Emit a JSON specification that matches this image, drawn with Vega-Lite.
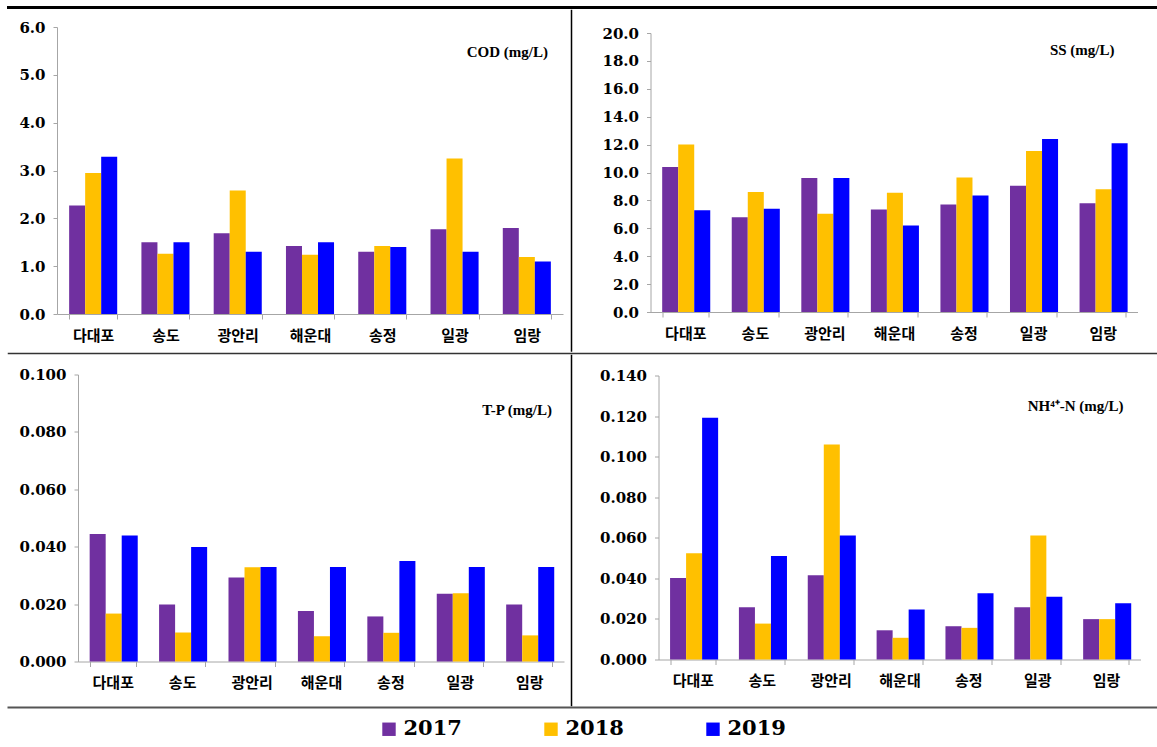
{
  "$schema": "https://vega.github.io/schema/vega-lite/v6.json",
  "padding": {"left": 6.5, "top": 5.5, "right": 0, "bottom": 0},
  "background": "white",
  "data": {"values": [
    {"param":"COD","site":"다대포","year":"2017","value":2.27},{"param":"COD","site":"다대포","year":"2018","value":2.95},{"param":"COD","site":"다대포","year":"2019","value":3.29},
    {"param":"COD","site":"송도","year":"2017","value":1.50},{"param":"COD","site":"송도","year":"2018","value":1.26},{"param":"COD","site":"송도","year":"2019","value":1.50},
    {"param":"COD","site":"광안리","year":"2017","value":1.69},{"param":"COD","site":"광안리","year":"2018","value":2.58},{"param":"COD","site":"광안리","year":"2019","value":1.30},
    {"param":"COD","site":"해운대","year":"2017","value":1.42},{"param":"COD","site":"해운대","year":"2018","value":1.24},{"param":"COD","site":"해운대","year":"2019","value":1.50},
    {"param":"COD","site":"송정","year":"2017","value":1.30},{"param":"COD","site":"송정","year":"2018","value":1.42},{"param":"COD","site":"송정","year":"2019","value":1.40},
    {"param":"COD","site":"일광","year":"2017","value":1.77},{"param":"COD","site":"일광","year":"2018","value":3.25},{"param":"COD","site":"일광","year":"2019","value":1.30},
    {"param":"COD","site":"임랑","year":"2017","value":1.80},{"param":"COD","site":"임랑","year":"2018","value":1.19},{"param":"COD","site":"임랑","year":"2019","value":1.10},
    {"param":"SS","site":"다대포","year":"2017","value":10.4},{"param":"SS","site":"다대포","year":"2018","value":12.0},{"param":"SS","site":"다대포","year":"2019","value":7.3},
    {"param":"SS","site":"송도","year":"2017","value":6.8},{"param":"SS","site":"송도","year":"2018","value":8.6},{"param":"SS","site":"송도","year":"2019","value":7.4},
    {"param":"SS","site":"광안리","year":"2017","value":9.6},{"param":"SS","site":"광안리","year":"2018","value":7.05},{"param":"SS","site":"광안리","year":"2019","value":9.6},
    {"param":"SS","site":"해운대","year":"2017","value":7.35},{"param":"SS","site":"해운대","year":"2018","value":8.55},{"param":"SS","site":"해운대","year":"2019","value":6.2},
    {"param":"SS","site":"송정","year":"2017","value":7.7},{"param":"SS","site":"송정","year":"2018","value":9.65},{"param":"SS","site":"송정","year":"2019","value":8.35},
    {"param":"SS","site":"일광","year":"2017","value":9.05},{"param":"SS","site":"일광","year":"2018","value":11.55},{"param":"SS","site":"일광","year":"2019","value":12.4},
    {"param":"SS","site":"임랑","year":"2017","value":7.8},{"param":"SS","site":"임랑","year":"2018","value":8.8},{"param":"SS","site":"임랑","year":"2019","value":12.1},
    {"param":"TP","site":"다대포","year":"2017","value":0.0444},{"param":"TP","site":"다대포","year":"2018","value":0.0167},{"param":"TP","site":"다대포","year":"2019","value":0.0439},
    {"param":"TP","site":"송도","year":"2017","value":0.0199},{"param":"TP","site":"송도","year":"2018","value":0.0101},{"param":"TP","site":"송도","year":"2019","value":0.0399},
    {"param":"TP","site":"광안리","year":"2017","value":0.0293},{"param":"TP","site":"광안리","year":"2018","value":0.0328},{"param":"TP","site":"광안리","year":"2019","value":0.0329},
    {"param":"TP","site":"해운대","year":"2017","value":0.0176},{"param":"TP","site":"해운대","year":"2018","value":0.0088},{"param":"TP","site":"해운대","year":"2019","value":0.0329},
    {"param":"TP","site":"송정","year":"2017","value":0.0157},{"param":"TP","site":"송정","year":"2018","value":0.0100},{"param":"TP","site":"송정","year":"2019","value":0.0350},
    {"param":"TP","site":"일광","year":"2017","value":0.0236},{"param":"TP","site":"일광","year":"2018","value":0.0238},{"param":"TP","site":"일광","year":"2019","value":0.0329},
    {"param":"TP","site":"임랑","year":"2017","value":0.0199},{"param":"TP","site":"임랑","year":"2018","value":0.0091},{"param":"TP","site":"임랑","year":"2019","value":0.0329},
    {"param":"NH","site":"다대포","year":"2017","value":0.0402},{"param":"NH","site":"다대포","year":"2018","value":0.0524},{"param":"NH","site":"다대포","year":"2019","value":0.1192},
    {"param":"NH","site":"송도","year":"2017","value":0.0258},{"param":"NH","site":"송도","year":"2018","value":0.0177},{"param":"NH","site":"송도","year":"2019","value":0.0510},
    {"param":"NH","site":"광안리","year":"2017","value":0.0415},{"param":"NH","site":"광안리","year":"2018","value":0.1060},{"param":"NH","site":"광안리","year":"2019","value":0.0611},
    {"param":"NH","site":"해운대","year":"2017","value":0.0144},{"param":"NH","site":"해운대","year":"2018","value":0.0107},{"param":"NH","site":"해운대","year":"2019","value":0.0246},
    {"param":"NH","site":"송정","year":"2017","value":0.0164},{"param":"NH","site":"송정","year":"2018","value":0.0156},{"param":"NH","site":"송정","year":"2019","value":0.0327},
    {"param":"NH","site":"일광","year":"2017","value":0.0258},{"param":"NH","site":"일광","year":"2018","value":0.0611},{"param":"NH","site":"일광","year":"2019","value":0.0309},
    {"param":"NH","site":"임랑","year":"2017","value":0.0199},{"param":"NH","site":"임랑","year":"2018","value":0.0199},{"param":"NH","site":"임랑","year":"2019","value":0.0277}
  ]},
  "spacing": 0,
  "vconcat": [
    {"width": 1149, "height": 0.01, "view": {"stroke": "#000000", "strokeWidth": 3}, "transform": [{"filter": "false"}], "mark": "rule", "encoding": {}},
    {
      "spacing": 28,
      "hconcat": [
        {
          "spacing": 7,
          "hconcat": [
            {
              "spacing": 4.5,
              "hconcat": [
                {"width": 0.01, "height": 0.01, "transform": [{"filter": "false"}], "mark": "rule", "encoding": {}},
                {
                  "spacing": 8.5,
                  "vconcat": [
                    {"width": 0.01, "height": 0.01, "transform": [{"filter": "false"}], "mark": "rule", "encoding": {}},
                    {
                      "width": 506, "height": 287,
                      "transform": [{"filter": "datum.param === 'COD'"}],
                      "title": {"text": "COD (mg/L)", "anchor": "end", "frame": "group", "offset": -40, "dx": -15},
                      "mark": "bar",
                      "encoding": {
                        "x": {"field": "site", "type": "nominal", "sort": ["다대포","송도","광안리","해운대","송정","일광","임랑"], "scale": {"paddingInner": 0.335, "paddingOuter": 0.168}, "axis": {"title": null}},
                        "xOffset": {"field": "year", "type": "nominal", "scale": {"paddingInner": 0, "paddingOuter": 0}},
                        "y": {"field": "value", "type": "quantitative", "scale": {"domain": [0, 6], "nice": false}, "axis": {"title": null, "values": [0,1,2,3,4,5,6], "format": ".1f", "minExtent": 43, "maxExtent": 43}},
                        "color": {"field": "year", "type": "nominal", "title": null, "scale": {"domain": ["2017","2018","2019"], "range": ["#7030A0","#FFC000","#0000FF"]}}
                      }
                    }
                  ]
                }
              ]
            },
            {"width": 0.01, "height": 340.5, "view": {"stroke": "#000000", "strokeWidth": 1.5}, "transform": [{"filter": "false"}], "mark": "rule", "encoding": {}}
          ]
        },
        {
          "spacing": 14.5,
          "vconcat": [
            {"width": 0.01, "height": 0.01, "transform": [{"filter": "false"}], "mark": "rule", "encoding": {}},
            {
              "width": 487, "height": 279,
              "transform": [{"filter": "datum.param === 'SS'"}],
              "title": {"text": "SS (mg/L)", "anchor": "end", "frame": "group", "offset": -32, "dx": -23},
              "mark": "bar",
              "encoding": {
                "x": {"field": "site", "type": "nominal", "sort": ["다대포","송도","광안리","해운대","송정","일광","임랑"], "scale": {"paddingInner": 0.335, "paddingOuter": 0.168}, "axis": {"title": null}},
                "xOffset": {"field": "year", "type": "nominal", "scale": {"paddingInner": 0, "paddingOuter": 0}},
                "y": {"field": "value", "type": "quantitative", "scale": {"domain": [0, 20], "nice": false}, "axis": {"title": null, "values": [0,2,4,6,8,10,12,14,16,18,20], "format": ".1f", "minExtent": 50, "maxExtent": 50}},
                "color": {"field": "year", "type": "nominal", "title": null, "scale": {"domain": ["2017","2018","2019"], "range": ["#7030A0","#FFC000","#0000FF"]}}
              }
            }
          ]
        }
      ]
    },
    {"width": 1149, "height": 0.01, "view": {"stroke": "#333333", "strokeWidth": 1.5}, "transform": [{"filter": "false"}], "mark": "rule", "encoding": {}},
    {
      "spacing": 23,
      "hconcat": [
        {
          "spacing": 6,
          "hconcat": [
            {
              "spacing": 4.5,
              "hconcat": [
                {"width": 0.01, "height": 0.01, "transform": [{"filter": "false"}], "mark": "rule", "encoding": {}},
                {
                  "spacing": 11,
                  "vconcat": [
                    {"width": 0.01, "height": 0.01, "transform": [{"filter": "false"}], "mark": "rule", "encoding": {}},
                    {
                      "width": 486, "height": 287,
                      "transform": [{"filter": "datum.param === 'TP'"}],
                      "title": {"text": "T-P (mg/L)", "anchor": "end", "frame": "group", "offset": -50, "dx": -12},
                      "mark": "bar",
                      "encoding": {
                        "x": {"field": "site", "type": "nominal", "sort": ["다대포","송도","광안리","해운대","송정","일광","임랑"], "scale": {"paddingInner": 0.335, "paddingOuter": 0.168}, "axis": {"title": null}},
                        "xOffset": {"field": "year", "type": "nominal", "scale": {"paddingInner": 0, "paddingOuter": 0}},
                        "y": {"field": "value", "type": "quantitative", "scale": {"domain": [0, 0.1], "nice": false}, "axis": {"title": null, "values": [0,0.02,0.04,0.06,0.08,0.1], "format": ".3f", "minExtent": 64, "maxExtent": 64}},
                        "color": {"field": "year", "type": "nominal", "title": null, "scale": {"domain": ["2017","2018","2019"], "range": ["#7030A0","#FFC000","#0000FF"]}}
                      }
                    }
                  ]
                }
              ]
            },
            {"width": 0.01, "height": 350, "view": {"stroke": "#000000", "strokeWidth": 1.5}, "transform": [{"filter": "false"}], "mark": "rule", "encoding": {}}
          ]
        },
        {
          "spacing": 12,
          "vconcat": [
            {"width": 0.01, "height": 0.01, "transform": [{"filter": "false"}], "mark": "rule", "encoding": {}},
            {
              "width": 482, "height": 284,
              "transform": [{"filter": "datum.param === 'NH'"}],
              "title": {"text": "NH⁴⁺-N (mg/L)", "anchor": "end", "frame": "group", "offset": -45, "dx": -17},
              "mark": "bar",
              "encoding": {
                "x": {"field": "site", "type": "nominal", "sort": ["다대포","송도","광안리","해운대","송정","일광","임랑"], "scale": {"paddingInner": 0.335, "paddingOuter": 0.168}, "axis": {"title": null}},
                "xOffset": {"field": "year", "type": "nominal", "scale": {"paddingInner": 0, "paddingOuter": 0}},
                "y": {"field": "value", "type": "quantitative", "scale": {"domain": [0, 0.14], "nice": false}, "axis": {"title": null, "values": [0,0.02,0.04,0.06,0.08,0.1,0.12,0.14], "format": ".3f", "minExtent": 63, "maxExtent": 63}},
                "color": {"field": "year", "type": "nominal", "title": null, "scale": {"domain": ["2017","2018","2019"], "range": ["#7030A0","#FFC000","#0000FF"]}}
              }
            }
          ]
        }
      ]
    },
    {"width": 1149, "height": 0.01, "view": {"stroke": "#555555", "strokeWidth": 2}, "transform": [{"filter": "false"}], "mark": "rule", "encoding": {}}
  ],
  "config": {
    "view": {"stroke": null},
    "font": "DejaVu Serif",
    "title": {"font": "Liberation Serif", "fontSize": 15, "fontWeight": "bold", "color": "black"},
    "axis": {"grid": false, "domainColor": "#A6A6A6", "tickColor": "#A6A6A6", "labelColor": "black", "labelFont": "DejaVu Serif, Noto Sans CJK KR", "labelFontWeight": "bold", "labelFontSize": 15, "tickSize": 4},
    "axisY": {"labelPadding": 8},
    "axisX": {"labelAngle": 0, "tickBand": "extent", "tickSize": 5, "labelPadding": 9, "labelFont": "Noto Sans CJK KR", "labelFontSize": 15},
    "legend": {"orient": "none", "direction": "horizontal", "legendX": 370, "legendY": 711, "symbolType": "square", "symbolSize": 180, "symbolStrokeWidth": 0, "symbolOpacity": 1, "labelFont": "DejaVu Serif", "labelFontWeight": "bold", "labelFontSize": 21, "labelColor": "black", "labelOffset": 4, "columnPadding": 78, "padding": 0}
  }
}
